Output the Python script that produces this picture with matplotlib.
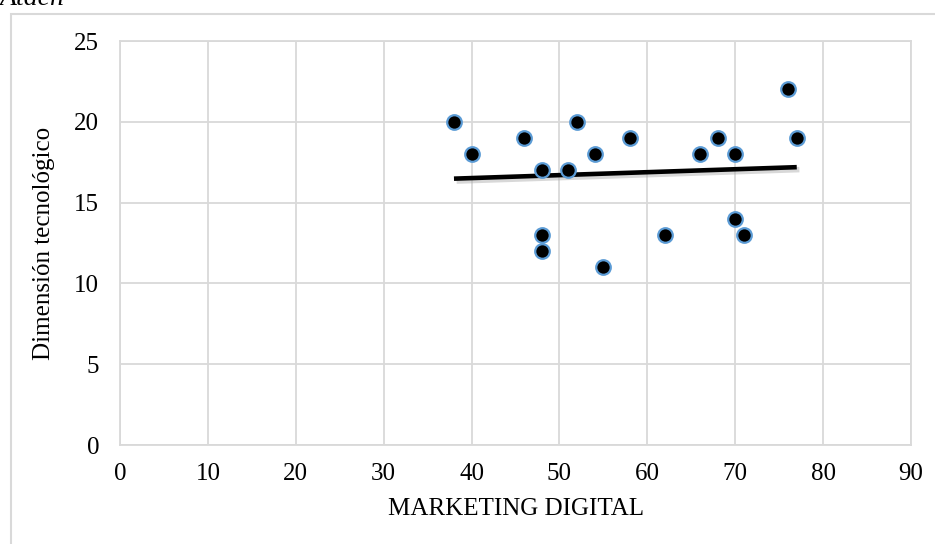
import numpy as np
import matplotlib.pyplot as plt
from matplotlib.patches import Rectangle

# datos
marketing = [38, 40, 46, 48, 48, 48, 51, 52, 54, 55, 58, 62, 66, 68, 70, 70, 71, 76, 77]
tecnologico = [20, 18, 19, 17, 13, 12, 17, 20, 18, 11, 19, 13, 18, 19, 18, 14, 13, 22, 19]
x_ticks = [0, 10, 20, 30, 40, 50, 60, 70, 80, 90]
y_ticks = [0, 5, 10, 15, 20, 25]

plt.rcParams['font.family'] = ['Liberation Serif', 'DejaVu Serif']

W, H = 935, 544
fig = plt.figure(figsize=(W / 100, H / 100), dpi=100)

# borde exterior del grafico
fig.patches.append(Rectangle((11 / W, -0.1), 1.2, 1.1 - 14 / H,
                             transform=fig.transFigure, fill=False,
                             edgecolor='#d9d9d9', lw=1.5))
fig.text(0.0, 1 - 5 / H, 'Atach', style='italic', fontsize=20, va='baseline', ha='left')

ax = fig.add_axes([120 / W, 1 - 445 / H, (911 - 120) / W, (445 - 41) / H])

ax.set_xlim(0, 90)
ax.set_ylim(0, 25)
ax.set_xticks(x_ticks)
ax.set_yticks(y_ticks)
ax.grid(True, color='#d9d9d9', lw=1.3)
ax.set_axisbelow(True)
for s in ax.spines.values():
    s.set_color('#d9d9d9')
    s.set_linewidth(1.3)
ax.tick_params(length=0, labelsize=18, pad=13)
ax.tick_params(axis='y', pad=15)

# linea de tendencia
m, b = np.polyfit(marketing, tecnologico, 1)
xt = np.array([min(marketing), max(marketing)])
ax.plot(xt + 0.3, m * xt + b - 0.15, color='#aaaaaa', lw=4, alpha=0.45, zorder=2,
        solid_capstyle='butt')
ax.plot(xt, m * xt + b, color='black', lw=3.3, zorder=3, solid_capstyle='butt')

ax.scatter(marketing, tecnologico, s=110, color='black', edgecolors='#5b9bd5',
           linewidths=1.6, zorder=4)

ax.set_xlabel('MARKETING DIGITAL', fontsize=18, labelpad=9)
ax.set_ylabel('Dimensión tecnológico', fontsize=18, labelpad=14)

fig.savefig('out.png', dpi=100)
